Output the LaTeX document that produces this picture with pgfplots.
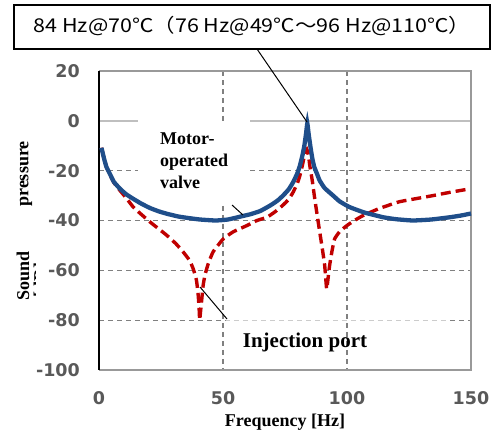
\documentclass[border=0pt]{standalone}
\usepackage{pgfplots}
\pgfplotsset{compat=1.18}
\usepackage{fontspec}
\setmainfont{Liberation Serif}
\newfontfamily\tickfont{DejaVu Sans}
\newfontfamily\cjk{Noto Sans CJK JP}
\definecolor{tickgray}{HTML}{595959}
\definecolor{gridgray}{HTML}{808080}
\definecolor{lightgray}{HTML}{BFBFBF}
\definecolor{bordergray}{HTML}{999999}
\definecolor{myblue}{HTML}{1F4E8A}
\definecolor{myred}{HTML}{C00000}
\begin{document}
\begin{tikzpicture}[x=1pt,y=1pt]
\useasboundingbox (0,0) rectangle (491,432);
\begin{axis}[
  scale only axis, width=372pt, height=299pt,
  at={(99pt,62pt)}, anchor=south west,
  xmin=0, xmax=150, ymin=-100, ymax=20,
  xtick={0,50,100,150}, ytick={-100,-80,-60,-40,-20,0,20},
  xticklabels={0,50,100,150},
  yticklabels={-100,-80,-60,-40,-20,0,20},
  major tick length=0pt,
  axis line style={draw=none},
  xticklabel style={font=\tickfont\bfseries\fontsize{17.5}{17.5}\selectfont, text=tickgray, inner sep=0pt, anchor=north, yshift=-21pt},
  yticklabel style={font=\tickfont\bfseries\fontsize{17.5}{17.5}\selectfont, text=tickgray, inner sep=0pt, anchor=east, xshift=-19pt},
  clip=false,
]
% grid
\draw[gridgray, line width=1.2pt, dash pattern=on 5pt off 4pt] (axis cs:0,-20) -- (axis cs:15.7,-20);
\draw[gridgray, line width=1.2pt, dash pattern=on 5pt off 4pt] (axis cs:60.9,-20) -- (axis cs:150,-20);
\draw[gridgray, line width=1.2pt, dash pattern=on 5pt off 4pt] (axis cs:0,-40) -- (axis cs:150,-40);
\draw[gridgray, line width=1.2pt, dash pattern=on 5pt off 4pt] (axis cs:0,-60) -- (axis cs:150,-60);
\draw[gridgray, line width=1.2pt, dash pattern=on 5pt off 4pt] (axis cs:0,-80) -- (axis cs:150,-80);
\draw[white, opacity=0.6, line width=2pt] (axis cs:51.2,-80) -- (axis cs:141.5,-80);
\draw[gridgray, line width=1.2pt, dash pattern=on 5pt off 4pt] (axis cs:50,20) -- (axis cs:50,0);
\draw[gridgray, line width=1.2pt, dash pattern=on 5pt off 4pt] (axis cs:50,-34.1) -- (axis cs:50,-100);
\draw[gridgray, line width=1.2pt, dash pattern=on 5pt off 4pt] (axis cs:100,20) -- (axis cs:100,-100);
\draw[lightgray, line width=2pt] (axis cs:0,0) -- (axis cs:15.7,0);
\draw[lightgray, line width=2pt] (axis cs:60.9,0) -- (axis cs:150,0);
% borders
\draw[bordergray, line width=1.5pt] (axis cs:0,20) -- (axis cs:150,20) -- (axis cs:150,-100) -- (axis cs:0,-100);
\draw[black, line width=1.5pt] (axis cs:0,20) -- (axis cs:0,-100);
% Injection port (red dashed)
\addplot[myred, line width=3.4pt, dash pattern=on 10pt off 5pt, smooth, tension=0.25] coordinates {
(1,-10.8)(2,-15)(3,-18.5)(4.4,-21.5)(6,-24.8)(8.5,-28)(11,-31)(13.8,-34.6)(17,-37.5)(20.6,-40.6)(24,-43.3)(27.4,-46)(31,-49.3)(34,-52.7)(36.5,-56)(38,-59.4)(39.3,-64)(40,-70)(40.4,-76)(40.6,-80)(41,-76)(41.5,-71)(42,-66)(42.7,-62)(44,-57.5)(46,-52.6)(50,-47.5)(54,-44.6)(59.7,-42)(63.7,-40)(67.7,-38.7)(71,-36.5)(74,-34)(76.5,-31.5)(78.3,-28.6)(80,-25)(81,-22)(82.2,-17)(83,-13)(83.8,-11.5)(84.5,-14)(85,-18)(86,-24)(87,-31.3)(88,-38)(89,-44.6)(90,-51)(91,-58)(91.8,-67.5)(92.5,-62)(93,-58)(94,-52)(95,-47.4)(97,-44.5)(100,-42)(103,-40)(106.5,-38)(113,-35.2)(121,-32.5)(128,-31.2)(134.7,-30)(142,-28.6)(149.6,-27.3)
};
% Motor-operated valve (blue solid)
\addplot[myblue, line width=4.3pt, smooth, tension=0.25] coordinates {
(1,-10.8)(2,-15)(3,-18.5)(4.4,-21.3)(6,-24.5)(8.5,-27.3)(11,-29.5)(13.8,-31.3)(17,-33.2)(20.6,-35)(24,-36.3)(27.4,-37.3)(32,-38.4)(36,-39)(40.7,-39.6)(47,-40)(52,-39.6)(58,-38.2)(61,-37.5)(65,-36.2)(69,-34)(72,-32)(74.2,-30)(76.5,-27.5)(78.3,-24.6)(80,-21)(81,-18)(82,-14)(82.8,-10)(83.5,-5)(84,-1)(84.5,-5)(85.2,-10)(86,-15)(86.8,-18.5)(88,-21.5)(89,-24)(91,-27)(94.4,-30)(97,-32.3)(101,-34.6)(107,-36.8)(114.6,-38.7)(120,-39.5)(126.6,-40)(134,-39.6)(141.5,-38.7)(146,-38)(150,-37.2)
};
\end{axis}
% top annotation
\draw[black, line width=1.3pt, fill=white] (14,427) rectangle (490,383);
\node[font=\cjk\fontsize{19}{19}\selectfont, inner sep=0pt, xscale=1.13] at (252,406) {84 Hz@70℃（76 Hz@49℃～96 Hz@110℃）};
\draw[black, line width=1pt] (257,383) -- (307,310);
% Motor label
\node[font=\bfseries\fontsize{18}{22}\selectfont, align=left, anchor=north west, inner sep=0pt] at (160,299) {Motor-\\operated\\valve};
\draw[black, line width=1pt] (232,227) -- (243,217);
% Injection label
\node[font=\bfseries\fontsize{21}{21}\selectfont, inner sep=0pt] at (305,90) {Injection port};
\draw[black, line width=1pt] (200,145) -- (227,113);
% axis labels
\node[font=\bfseries\fontsize{18}{18}\selectfont, inner sep=0pt] at (285,10) {Frequency [Hz]};
\node[font=\bfseries\fontsize{18}{18}\selectfont, inner sep=0pt, rotate=90] at (26,258) {pressure};
\node[font=\bfseries\fontsize{18}{18}\selectfont, inner sep=0pt, rotate=90] at (23,156) {Sound};
\begin{scope}
\clip (0,130) rectangle (35,180);
\node[font=\bfseries\fontsize{18}{18}\selectfont, inner sep=0pt, rotate=90] at (41,152) {[dB]};
\end{scope}
\end{tikzpicture}
\end{document}
